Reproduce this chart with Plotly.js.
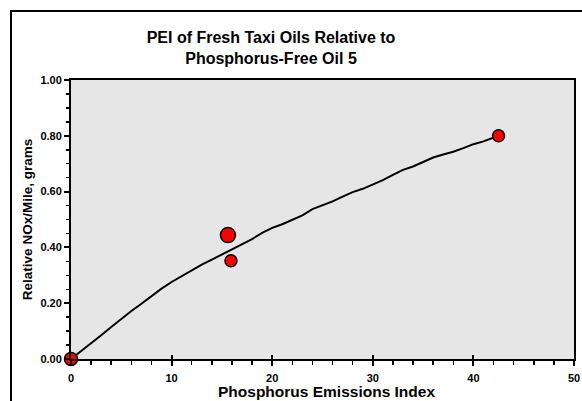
<!DOCTYPE html>
<html>
<head>
<meta charset="utf-8">
<script src="https://cdn.plot.ly/plotly-3.0.1.min.js"></script>
<style>html,body{margin:0;padding:0;background:#fff;}#chart{width:582px;height:401px;}</style>
</head>
<body>
<div id="chart"></div>
<script>
// Fitted curve
const curveX = [0,1,2,3,4,5,6,7,8,9,10,11,12,13,14,15,16,17,18,19,20,21,22,23,24,25,26,27,28,29,30,31,32,33,34,35,36,37,38,39,40,41,42,42.5];
const curveY = [0,0.028,0.055,0.085,0.115,0.145,0.172,0.198,0.226,0.252,0.276,0.297,0.320,0.338,0.356,0.375,0.392,0.410,0.430,0.452,0.470,0.483,0.498,0.515,0.537,0.550,0.565,0.582,0.598,0.610,0.625,0.641,0.660,0.678,0.690,0.705,0.722,0.733,0.743,0.756,0.770,0.780,0.792,0.800];
// Oil data points
const pointX = [0, 15.6, 15.9, 42.5];
const pointY = [0, 0.444, 0.352, 0.800];
const pointSize = [13, 15, 12, 12];

const titleText = "PEI of Fresh Taxi Oils Relative to<br>Phosphorus-Free Oil 5";
const xTitle = "Phosphorus Emissions Index";
const yTitle = "Relative NOx/Mile, grams";

const F = "Liberation Sans, Arial, sans-serif";

const traces = [
  {x: curveX, y: curveY, mode: 'lines', type: 'scatter', line: {color: '#000', width: 2}, hoverinfo: 'skip', cliponaxis: false},
  {x: pointX, y: pointY, mode: 'markers', type: 'scatter', cliponaxis: false,
   marker: {color: '#ff0000', opacity: 1, size: pointSize, line: {color: '#000', width: 1.5}}},
  {x: [0], y: [0], xaxis: 'x2', mode: 'markers', marker: {opacity: 0}, hoverinfo: 'skip'}
];

const layout = {
  width: 582, height: 401,
  margin: {l: 71, r: 8, t: 80, b: 42},
  paper_bgcolor: '#ffffff',
  plot_bgcolor: '#e6e6e6',
  showlegend: false,
  title: {text: titleText, x: 271/582, xref: 'container', xanchor: 'center', y: 0.893, yref: 'container', yanchor: 'top',
          font: {family: F, size: 16, color: '#000', weight: 'bold'}},
  xaxis: {
    range: [0, 50], dtick: 10, tick0: 0, showgrid: false, zeroline: false,
    ticks: 'outside', ticklen: 5, tickwidth: 2, tickcolor: '#000',
    minor: {dtick: 2, ticks: 'outside', ticklen: 4, tickwidth: 1.5, tickcolor: '#000', showgrid: false},
    showline: true, linecolor: '#000', linewidth: 2, mirror: true,
    tickfont: {family: F, size: 11, color: '#000', weight: 'bold'},
    ticklabelstandoff: 3
  },
  xaxis2: {
    overlaying: 'x', matches: 'x', range: [0, 50], dtick: 10, tick0: 0, showgrid: false, zeroline: false,
    ticks: 'inside', ticklen: 4, tickwidth: 2, tickcolor: '#000', showticklabels: false, side: 'bottom', showline: false
  },
  yaxis: {
    range: [0, 1], dtick: 0.2, tick0: 0, tickformat: '.2f', showgrid: false, zeroline: false,
    ticks: 'outside', ticklen: 5, tickwidth: 2, tickcolor: '#000',
    minor: {dtick: 0.05, ticks: 'outside', ticklen: 3, tickwidth: 1.5, tickcolor: '#000', showgrid: false},
    showline: true, linecolor: '#000', linewidth: 2, mirror: true,
    tickfont: {family: F, size: 11, color: '#000', weight: 'bold'},
    ticklabelstandoff: 0,
    title: {text: yTitle, font: {family: F, size: 13.5, color: '#000', weight: 'bold'}, standoff: 5}
  },
  annotations: [
    {text: xTitle, xref: 'paper', yref: 'paper', x: (326 - 71) / 503, y: (359 - 381) / 279,
     xanchor: 'center', yanchor: 'top', showarrow: false,
     font: {family: F, size: 15.5, color: '#000', weight: 'bold'}}
  ],
  shapes: [
    {type: 'rect', xref: 'paper', yref: 'paper',
     x0: (11 - 71) / 503, x1: (600 - 71) / 503,
     y0: (359 - 420) / 279, y1: (359 - 11) / 279,
     line: {color: '#000', width: 2}, fillcolor: 'rgba(0,0,0,0)', layer: 'below'}
  ]
};

Plotly.newPlot('chart', traces, layout, {displayModeBar: false, staticPlot: true});
</script>
</body>
</html>
